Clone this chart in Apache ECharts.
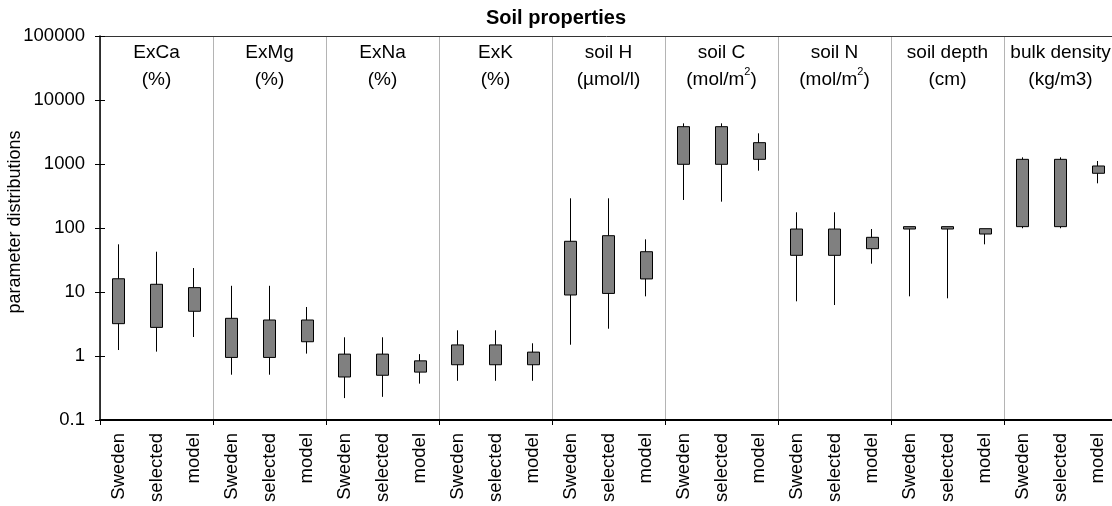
<!DOCTYPE html>
<html>
<head>
<meta charset="utf-8">
<script src="https://cdn.jsdelivr.net/npm/echarts@6/dist/echarts.min.js"></script>
<style>
html,body{margin:0;padding:0;background:#fff;}
#chart{width:1112px;height:506px;}
</style>
</head>
<body>
<div id="chart"></div>
<script>
// ---- data ----
const groupLabels = ['ExCa\n(%)', 'ExMg\n(%)', 'ExNa\n(%)', 'ExK\n(%)', 'soil H\n(µmol/l)',
  'soil C\n(mol/m{sup|2})', 'soil N\n(mol/m{sup|2})', 'soil depth\n(cm)', 'bulk density\n(kg/m3)'];
const subCategories = ['Sweden', 'selected', 'model'];
const categories = [];
groupLabels.forEach(() => subCategories.forEach(s => categories.push(s)));

const whiskerLow = [1.24, 1.17, 1.98,  0.51, 0.51, 1.09,  0.22, 0.23, 0.37,  0.41, 0.41, 0.41,
  1.5, 2.67, 8.55,  274, 258, 787,  7.15, 6.26, 27.7,  8.56, 7.97, 55.6,  99, 99, 499];
const boxLow = [3.2, 2.8, 5.0,  0.95, 0.95, 1.67,  0.47, 0.50, 0.56,  0.73, 0.73, 0.73,
  8.98, 9.5, 16,  989, 989, 1183,  37.4, 37.4, 47.5,  96.4, 96.4, 80.5,  105, 105, 716];
const boxHigh = [16.1, 13.2, 11.7,  3.88, 3.65, 3.65,  1.07, 1.07, 0.84,  1.49, 1.49, 1.15,
  62, 75.8, 42.6,  3830, 3830, 2155,  96.4, 96.4, 71.5,  105, 105, 97.6,  1183, 1183, 931];
const whiskerHigh = [55.6, 42.6, 23.7,  12.5, 12.5, 5.83,  1.96, 1.96, 1.07,  2.52, 2.52, 1.58,
  291, 291, 66.5,  4320, 4320, 3015,  176, 176, 96.4,  105, 105, 97.6,  1271, 1271, 1114];

const yMin = 0.1, yMax = 100000;

const candleData = categories.map((c, i) => [boxLow[i], boxHigh[i], whiskerLow[i], whiskerHigh[i]]);

const FONT = 'Liberation Sans, Arial, sans-serif';
const chart = echarts.init(document.getElementById('chart'), null, {renderer: 'canvas'});
const groupEdge = (i) => i % 3 === 0;
const fmt = (v) => String(+(+v).toPrecision(6));

chart.setOption({
  animation: false,
  backgroundColor: '#fff',
  textStyle: {fontFamily: FONT, color: '#000'},
  title: {
    text: 'Soil properties',
    left: 'center', top: 8, padding: 0,
    textStyle: {fontFamily: FONT, fontSize: 20, fontWeight: 'bold', color: '#000'}
  },
  grid: {left: 100, right: -5, top: 36, bottom: 86, containLabel: false, outerBoundsMode: 'none'},
  xAxis: [{
    type: 'category',
    data: categories,
    position: 'bottom',
    boundaryGap: true,
    axisLine: {show: true, lineStyle: {color: '#000', width: 2}},
    axisTick: {show: true, interval: (i) => groupEdge(i), length: 5, lineStyle: {color: '#000'}},
    splitLine: {show: true, interval: (i) => groupEdge(i), lineStyle: {color: '#b4b4b4', width: 1}},
    axisLabel: {interval: 0, rotate: 90, fontSize: 18.5, color: '#000', margin: 13, fontFamily: FONT}
  }, {
    type: 'category',
    data: groupLabels,
    position: 'top',
    boundaryGap: true,
    axisLine: {show: true, lineStyle: {color: '#333', width: 1}},
    axisTick: {show: false},
    splitLine: {show: false},
    axisLabel: {
      inside: true, interval: 0, fontSize: 19, color: '#000', margin: 3, lineHeight: 27,
      verticalAlign: 'top', fontFamily: FONT,
      rich: {sup: {fontSize: 11, verticalAlign: 'top', lineHeight: 27, padding: [0, 0, 9, 0], fontFamily: FONT, color: '#000'}}
    }
  }],
  yAxis: [{
    type: 'log',
    logBase: 10,
    min: yMin,
    max: yMax,
    name: 'parameter distributions',
    nameLocation: 'middle',
    nameGap: 76,
    nameMoveOverlap: false,
    nameTextStyle: {fontSize: 18, color: '#000', fontFamily: FONT, padding: [0, 0, 0, 12]},
    axisLine: {show: true, lineStyle: {color: '#000', width: 1.5}},
    axisTick: {show: true, length: 5, lineStyle: {color: '#000'}},
    splitLine: {show: false},
    axisLabel: {fontSize: 18.5, color: '#000', margin: 15, fontFamily: FONT, formatter: fmt}
  }, {
    type: 'log',
    logBase: 10,
    min: yMin,
    max: yMax,
    position: 'left',
    axisLine: {show: false},
    axisTick: {show: true, inside: true, length: 5, lineStyle: {color: '#000'}},
    splitLine: {show: false},
    axisLabel: {show: false}
  }],
  series: [{
    type: 'candlestick',
    xAxisIndex: 0,
    yAxisIndex: 0,
    data: candleData,
    barWidth: 12.5,
    itemStyle: {color: '#808080', color0: '#808080', borderColor: '#000', borderColor0: '#000', borderWidth: 1}
  }]
});
</script>
</body>
</html>
